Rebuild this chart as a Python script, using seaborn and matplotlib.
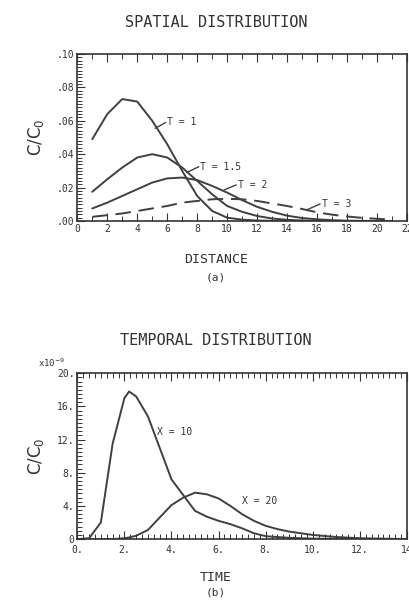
import numpy as np
import pandas as pd
import matplotlib
matplotlib.use("Agg")
import matplotlib.pyplot as plt
import seaborn as sns
from matplotlib.ticker import MultipleLocator, FuncFormatter

# spatial distribution (panel a), C/C0 vs distance
dist = [1, 2, 3, 4, 5, 6, 7, 8, 9, 10, 11, 12, 13, 14, 15, 16, 17, 18, 19, 20, 21]
t_1 = [0.049, 0.064, 0.073, 0.0715, 0.060, 0.046, 0.030, 0.015, 0.006, 0.002, 0.0008,
       0.0003, 0.0001, 0, 0, 0, 0, 0, 0, 0, 0]
t_15 = [0.0175, 0.025, 0.032, 0.038, 0.040, 0.038, 0.032, 0.024, 0.016, 0.009, 0.0055,
        0.003, 0.0015, 0.0007, 0.0003, 0.0001, 0, 0, 0, 0, 0]
t_2 = [0.0075, 0.011, 0.015, 0.019, 0.023, 0.0255, 0.026, 0.0245, 0.021, 0.017, 0.0125,
       0.0085, 0.0055, 0.0032, 0.0018, 0.001, 0.0005, 0.0002, 0.0001, 0, 0]
t_3 = [0.0025, 0.0035, 0.0045, 0.006, 0.0075, 0.009, 0.011, 0.012, 0.013, 0.0133, 0.013,
       0.012, 0.0105, 0.009, 0.0072, 0.0052, 0.0038, 0.0027, 0.0019, 0.0013, 0.0009]

# temporal distribution (panel b), C/C0 (x1e-9) vs time
time = [0, 0.5, 1, 1.5, 2, 2.2, 2.5, 3, 3.5, 4, 4.5, 5, 5.5, 6, 6.5, 7, 7.5, 8, 8.5, 9,
        10, 11, 12, 13, 14]
x_10 = [0, 0.1, 2.0, 11.5, 17.0, 17.8, 17.2, 14.8, 11.0, 7.2, 5.3, 3.4, 2.7, 2.2, 1.8,
        1.3, 0.7, 0.35, 0.25, 0.15, 0.05, 0.02, 0, 0, 0]
x_20 = [0, 0, 0, 0, 0.1, 0.2, 0.4, 1.1, 2.6, 4.1, 5.0, 5.6, 5.4, 4.9, 4.0, 3.0, 2.2,
        1.6, 1.2, 0.9, 0.5, 0.25, 0.1, 0.05, 0]

sns.set_style("ticks")
plt.rcParams['font.family'] = ['DejaVu Sans Mono', 'DejaVu Sans']
ink = "#333333"
line = "#404040"

fig = plt.figure(figsize=(4.09, 6.03), dpi=100)
ax1 = fig.add_axes([0.189, 0.6335, 0.806, 0.277])
ax2 = fig.add_axes([0.189, 0.106, 0.806, 0.275])

df_a = pd.DataFrame({'dist': dist, 't1': t_1, 't15': t_15, 't2': t_2, 't3': t_3})
for col in ['t1', 't15', 't2']:
    sns.lineplot(data=df_a, x='dist', y=col, ax=ax1, color=line, lw=1.4)
sns.lineplot(data=df_a, x='dist', y='t3', ax=ax1, color=line, lw=1.4)
ax1.lines[-1].set_dashes([8, 4])

df_b = pd.DataFrame({'time': time, 'x10': x_10, 'x20': x_20})
sns.lineplot(data=df_b, x='time', y='x10', ax=ax2, color=line, lw=1.4)
sns.lineplot(data=df_b, x='time', y='x20', ax=ax2, color=line, lw=1.4)

# curve labels with leader lines
for (x0, y0, x1, y1, txt) in [(5.2, 0.0555, 5.9, 0.059, "T = 1"),
                              (7.3, 0.029, 8.1, 0.0325, "T = 1.5"),
                              (9.8, 0.0186, 10.6, 0.0216, "T = 2"),
                              (15.3, 0.0066, 16.2, 0.0102, "T = 3")]:
    ax1.plot([x0, x1], [y0, y1], color=line, lw=1.0)
    ax1.text(x1 + 0.1, y1, txt, fontsize=7, color=ink, va='center', ha='left')
ax2.text(3.4, 12.9, "X = 10", fontsize=7, color=ink, va='center')
ax2.text(7.0, 4.6, "X = 20", fontsize=7, color=ink, va='center')

ax1.set_xlim(0, 22)
ax1.set_ylim(0, 0.10)
ax1.xaxis.set_major_locator(MultipleLocator(2))
ax1.xaxis.set_minor_locator(MultipleLocator(1))
ax1.yaxis.set_major_locator(MultipleLocator(0.02))
ax1.yaxis.set_minor_locator(MultipleLocator(0.002))
ax1.yaxis.set_major_formatter(FuncFormatter(lambda v, p: ("%.2f" % v)[1:]))

ax2.set_xlim(0, 14)
ax2.set_ylim(0, 20)
ax2.xaxis.set_major_locator(MultipleLocator(2))
ax2.xaxis.set_minor_locator(MultipleLocator(0.25))
ax2.yaxis.set_major_locator(MultipleLocator(4))
ax2.yaxis.set_minor_locator(MultipleLocator(0.5))
ax2.xaxis.set_major_formatter(FuncFormatter(lambda v, p: "14" if v >= 14 else "%d." % v))
ax2.yaxis.set_major_formatter(FuncFormatter(lambda v, p: "0" if v == 0 else "%d." % v))

for ax in (ax1, ax2):
    ax.set_xlabel("")
    ax.set_ylabel("C/C$_0$", fontsize=12, color=ink, family='DejaVu Sans', labelpad=8)
    ax.tick_params(which='both', direction='in', top=True, right=False,
                   labelsize=7, colors=ink, pad=2)
    ax.tick_params(which='major', length=6, width=0.8)
    ax.tick_params(which='minor', length=3.5, width=0.7)
    for s in ax.spines.values():
        s.set_visible(True)
        s.set_color(ink)
        s.set_linewidth(1.2)
ax2.tick_params(axis='x', pad=4)

fig.text(0.528, 0.9635, "SPATIAL DISTRIBUTION", ha='center', va='center', fontsize=11, color=ink)
fig.text(0.528, 0.569, "DISTANCE", ha='center', va='center', fontsize=9.5, color=ink)
fig.text(0.528, 0.539, "(a)", ha='center', va='center', fontsize=8, color=ink)
fig.text(0.528, 0.436, "TEMPORAL DISTRIBUTION", ha='center', va='center', fontsize=11, color=ink)
fig.text(0.528, 0.043, "TIME", ha='center', va='center', fontsize=9.5, color=ink)
fig.text(0.528, 0.0166, "(b)", ha='center', va='center', fontsize=8, color=ink)
fig.text(0.093, 0.398, "x10$^{-9}$", ha='left', va='center', fontsize=6.5, color=ink)

fig.savefig("out.png", dpi=100, facecolor='white')
